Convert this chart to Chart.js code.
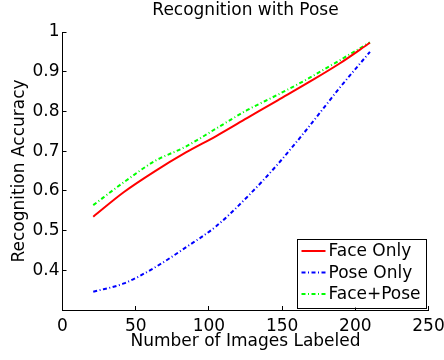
<!DOCTYPE html>
<html><head><meta charset="utf-8">
<script src="https://cdn.jsdelivr.net/npm/chart.js@4/dist/chart.umd.min.js"></script>
<style>html,body{margin:0;padding:0;background:#fff;}</style>
</head><body>
<canvas id="c" width="444" height="360" style="display:block;width:444px;height:360px"></canvas>
<script>
const chartTitle = 'Recognition with Pose';
const xAxisTitle = 'Number of Images Labeled';
const yAxisTitle = 'Recognition Accuracy';
const xValues = [21, 42, 63, 84, 105, 126, 147, 168, 189, 210];
const faceOnly = [0.535, 0.597, 0.649, 0.696, 0.738, 0.783, 0.828, 0.873, 0.920, 0.973];
const poseOnly = [0.346, 0.367, 0.407, 0.457, 0.511, 0.584, 0.667, 0.760, 0.858, 0.950];
const facePose = [0.564, 0.622, 0.675, 0.711, 0.757, 0.803, 0.842, 0.883, 0.928, 0.974];
const seriesNames = ['Face Only', 'Pose Only', 'Face+Pose'];
const xTicks = [0, 50, 100, 150, 200, 250];
const yTicks = [0.4, 0.5, 0.6, 0.7, 0.8, 0.9, 1];

const FONT = 'DejaVu Sans';
const toPts = arr => arr.map((v, i) => ({x: xValues[i], y: v}));

const legendPlugin = {
  id: 'boxLegend',
  afterDraw(chart) {
    const ctx = chart.ctx, a = chart.chartArea;
    const w = 128.5, h = 69;
    const right = a.right - 3.5, bottom = a.bottom - 2.5;
    const left = right - w, top = bottom - h;
    ctx.save();
    ctx.fillStyle = '#fff';
    ctx.fillRect(left, top, w, h);
    ctx.strokeStyle = '#000';
    ctx.lineWidth = 1;
    ctx.strokeRect(Math.round(left) + 0.5, Math.round(top) + 0.5, Math.round(w), Math.round(h));
    ctx.font = '17px "' + FONT + '"';
    ctx.textBaseline = 'middle';
    ctx.fillStyle = '#000';
    chart.data.datasets.forEach((ds, i) => {
      const y = top + 12.5 + i * 21.5;
      ctx.save();
      ctx.strokeStyle = ds.borderColor;
      ctx.lineWidth = ds.borderWidth;
      ctx.setLineDash(ds.borderDash || []);
      ctx.beginPath();
      ctx.moveTo(left + 5, y);
      ctx.lineTo(left + 29, y);
      ctx.stroke();
      ctx.restore();
      ctx.fillText(ds.label, left + 32, y + 1);
    });
    ctx.restore();
  }
};

new Chart(document.getElementById('c'), {
  type: 'line',
  data: {
    datasets: [
      {label: seriesNames[0], data: toPts(faceOnly), borderColor: '#ff0000', borderWidth: 2, borderDash: [], pointRadius: 0, cubicInterpolationMode: 'monotone', fill: false},
      {label: seriesNames[1], data: toPts(poseOnly), borderColor: '#0000ff', borderWidth: 2, borderDash: [4, 2.5, 1, 2.5], pointRadius: 0, cubicInterpolationMode: 'monotone', fill: false},
      {label: seriesNames[2], data: toPts(facePose), borderColor: '#00ff00', borderWidth: 2, borderDash: [4, 2.5, 1, 2.5], pointRadius: 0, cubicInterpolationMode: 'monotone', fill: false}
    ]
  },
  options: {
    responsive: false,
    animation: false,
    devicePixelRatio: 1,
    layout: {padding: {left: 0, right: 15.5, top: 0, bottom: 0}},
    plugins: {
      legend: {display: false},
      tooltip: {enabled: false},
      title: {
        display: true, text: chartTitle, color: '#000', fullSize: false,
        font: {family: FONT, size: 17, weight: 'normal', lineHeight: 1.2},
        padding: {top: 0, bottom: 11.6}
      }
    },
    scales: {
      x: {
        type: 'linear', min: 0, max: 250,
        afterBuildTicks: s => { s.ticks = xTicks.map(v => ({value: v})); },
        afterFit: s => { s.height = 50; s.paddingLeft = 0; s.paddingRight = 0; },
        grid: {drawOnChartArea: false, drawTicks: true, tickLength: -4, color: '#000', lineWidth: 1},
        border: {display: true, color: '#000', width: 1},
        ticks: {color: '#000', padding: 10, maxRotation: 0, autoSkip: false, font: {family: FONT, size: 17}, callback: v => String(v)},
        title: {display: true, text: xAxisTitle, color: '#000', font: {family: FONT, size: 17, lineHeight: 1.2}, padding: {top: 0, bottom: 8}}
      },
      y: {
        type: 'linear', min: 0.3, max: 1,
        afterBuildTicks: s => { s.ticks = yTicks.map(v => ({value: v})); },
        afterFit: s => { s.width = 62.5; s.paddingTop = 0; s.paddingBottom = 0; },
        grid: {drawOnChartArea: false, drawTicks: true, tickLength: -4, color: '#000', lineWidth: 1},
        border: {display: true, color: '#000', width: 1},
        ticks: {color: '#000', padding: 7, autoSkip: false, font: {family: FONT, size: 17}, callback: v => String(Math.round(v * 10) / 10)},
        title: {display: true, text: yAxisTitle, color: '#000', font: {family: FONT, size: 17, lineHeight: 1.2}, padding: {top: 9, bottom: 0}}
      }
    }
  },
  plugins: [legendPlugin]
});
</script>
</body></html>
